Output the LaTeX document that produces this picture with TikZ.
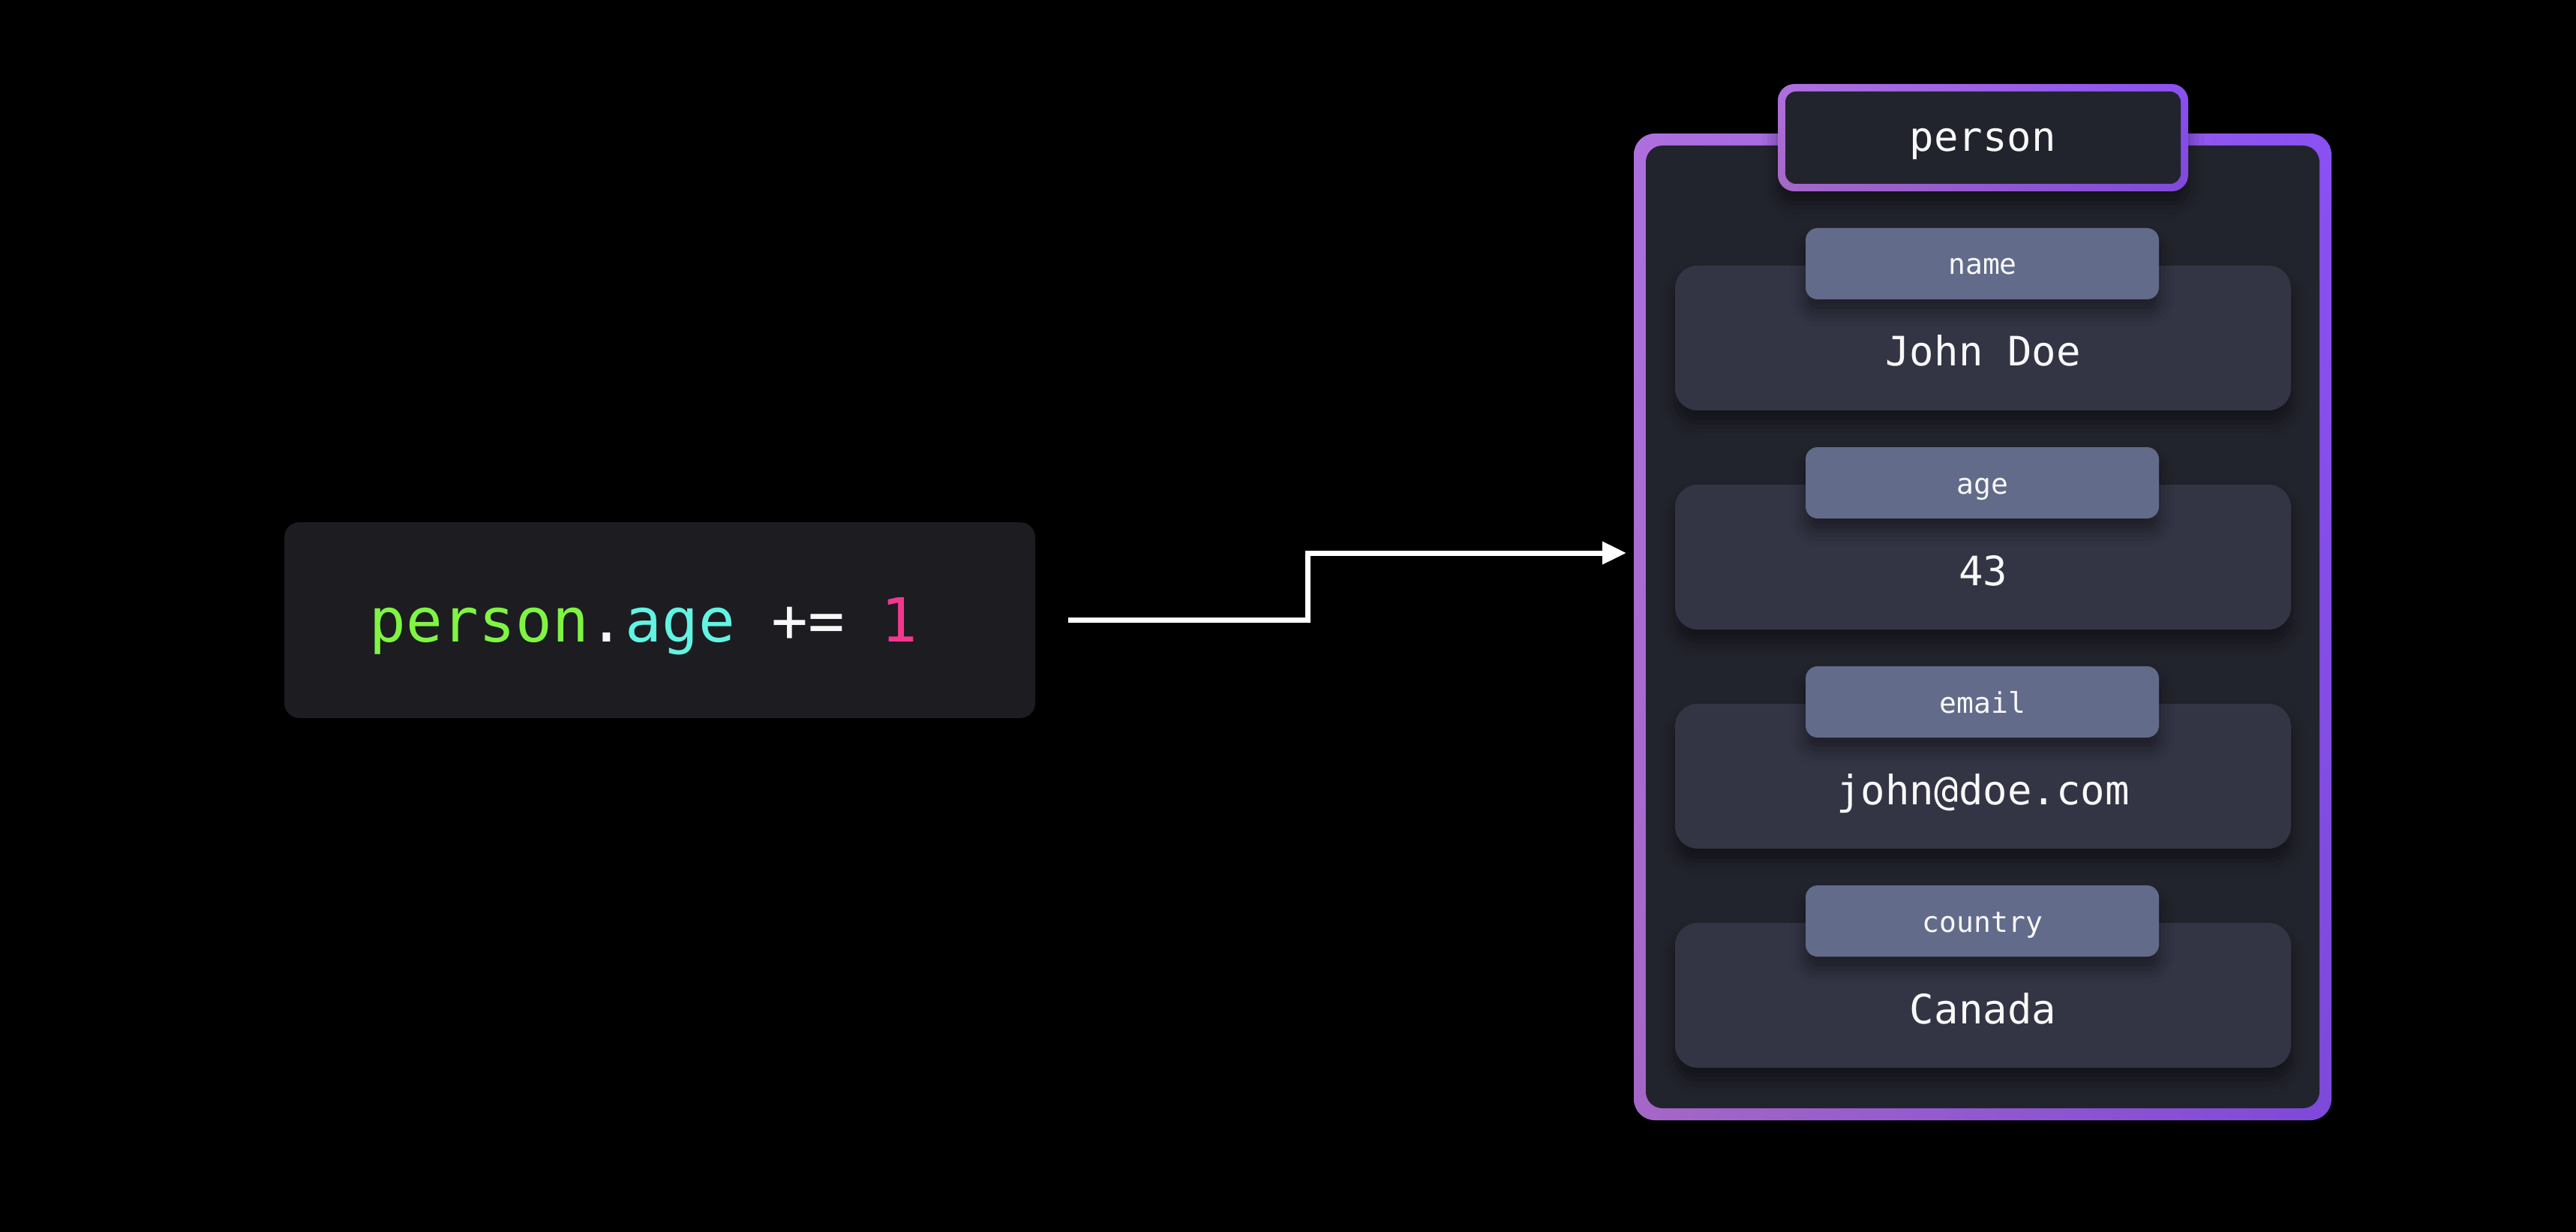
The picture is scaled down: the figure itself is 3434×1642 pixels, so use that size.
\documentclass[tikz,border=0pt]{standalone}
\usepackage{fontspec}
\newfontfamily\codefont{DejaVu Sans Mono}
\usetikzlibrary{arrows.meta,shadows.blur,shadings}
\definecolor{codebg}{HTML}{1C1C21}
\definecolor{panel}{HTML}{22242D}
\definecolor{valbg}{HTML}{333545}
\definecolor{labbg}{HTML}{626B8A}
\definecolor{cgreen}{HTML}{80F443}
\definecolor{ccyan}{HTML}{62F4E2}
\definecolor{cpink}{HTML}{F2388E}
\definecolor{txt}{HTML}{F8F8F8}
\definecolor{gUL}{HTML}{AE70DE}
\definecolor{gUR}{HTML}{8A50F2}
\definecolor{gLL}{HTML}{A567C6}
\definecolor{gLR}{HTML}{7E49D9}
\begin{document}
\begin{tikzpicture}[x=0.5pt,y=-0.5pt,
  box/.style={rectangle, inner sep=0pt, outer sep=0pt},
  softshadow/.style={blur shadow={shadow xshift=0pt, shadow yshift=-8pt, shadow blur radius=10pt, shadow opacity=45}},
  gradframe/.style={box, shade, upper left=gUL, upper right=gUR, lower left=gLL, lower right=gLR},
  codebox/.style={box, fill=codebg, rounded corners=10pt, minimum width=500.5pt, minimum height=130.5pt},
  frameouter/.style={gradframe, rounded corners=14pt, minimum width=465pt, minimum height=657.5pt},
  frameinner/.style={box, fill=panel, rounded corners=11pt, minimum width=449pt, minimum height=641.5pt},
  titleouter/.style={gradframe, rounded corners=11pt, minimum width=273.5pt, minimum height=71.5pt, softshadow},
  titleinner/.style={box, fill=panel, rounded corners=7pt, minimum width=263.5pt, minimum height=61.5pt},
  labelbox/.style={box, fill=labbg, rounded corners=8pt, minimum width=235.5pt, minimum height=47.5pt, softshadow},
  valbox/.style={box, fill=valbg, rounded corners=15pt, minimum width=410.5pt, minimum height=96.5pt, softshadow},
  codetext/.style={inner sep=0pt, anchor=base, font=\codefont\fontsize{40.5}{48}\selectfont},
  bigtext/.style={inner sep=0pt, anchor=base, text=txt, font=\codefont\fontsize{27}{32}\selectfont},
  smalltext/.style={inner sep=0pt, anchor=base, text=txt, font=\codefont\fontsize{19}{23}\selectfont},
  arrowline/.style={draw=white, line width=3.5pt, line join=miter, -{Triangle[length=16pt,width=14.5pt]}}
]
\fill[black] (0,0) rectangle (3434,1642);
\useasboundingbox (0,0) rectangle (3434,1642);

% code box
\node[codebox] (codebox) at (879.5,826.5) {};
\node[codetext] (code) at (858,855) {\textcolor{cgreen}{person}\textcolor{txt}{.}\textcolor{ccyan}{age}\textcolor{txt}{\ +=\ }\textcolor{cpink}{1}};

% object frame
\node[frameouter] (frame) at (2643,835.5) {};
\node[frameinner] (panel) at (2643,835.5) {};

% fields
\foreach \i/\lab/\val in {0/name/John Doe, 1/age/43, 2/email/john@doe.com, 3/country/Canada}{
  \node[valbox] (val\i) at (2643.5,{450.5+292*\i}) {};
  \node[bigtext] (valt\i) at (2643.5,{488+292*\i}) {\val};
  \node[labelbox] (lab\i) at (2642.5,{351.5+292*\i}) {};
  \node[smalltext] (labt\i) at (2643,{366+292*\i}) {\lab};
}

% title
\node[titleouter] (title) at (2643.5,183.5) {};
\node[titleinner] (titlein) at (2643.5,183.5) {};
\node[bigtext] (titlet) at (2643,202) {person};

% arrow
\coordinate (start) at (1424,826);
\coordinate (end) at (2168,737);
\draw[arrowline] (start) -- (1743,826) |- (end);
\end{tikzpicture}
\end{document}
